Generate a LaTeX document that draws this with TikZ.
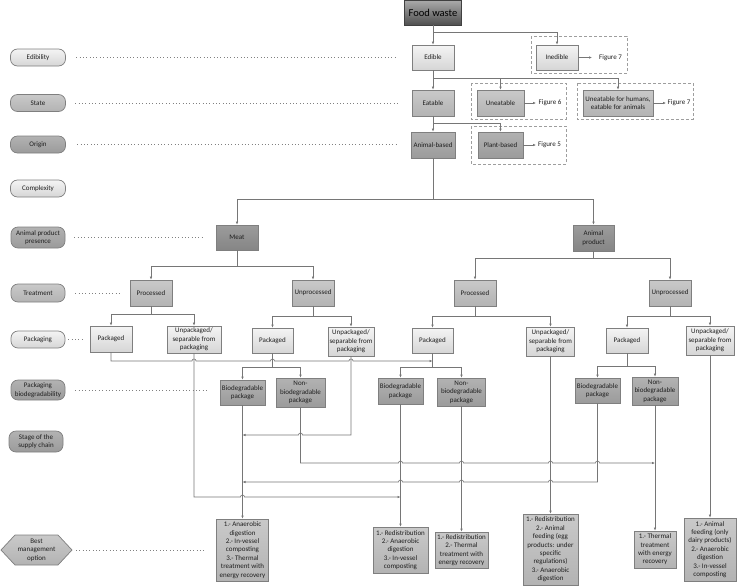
\documentclass[tikz,border=0pt]{standalone}
\usepackage{fontspec}
\setmainfont{Carlito}
\usetikzlibrary{arrows.meta,calc}
\definecolor{bord}{HTML}{7F7F7F}
\definecolor{lineg}{HTML}{767676}
\definecolor{lightT}{HTML}{F4F4F4}
\definecolor{lightB}{HTML}{D6D6D6}
\definecolor{midT}{HTML}{C9C9C9}
\definecolor{midB}{HTML}{B3B3B3}
\definecolor{darkT}{HTML}{B2B2B2}
\definecolor{darkB}{HTML}{9B9B9B}
\definecolor{darkerT}{HTML}{9C9C9C}
\definecolor{darkerB}{HTML}{858585}
\definecolor{fwT}{HTML}{ABABAB}
\definecolor{fwB}{HTML}{505050}
\newcommand\hopR[2]{-- (#1-2,#2) .. controls (#1-2,#2-2.7) and (#1+2,#2-2.7) .. (#1+2,#2)}
\newcommand\hopL[2]{-- (#1+2,#2) .. controls (#1+2,#2-2.7) and (#1-2,#2-2.7) .. (#1-2,#2)}
\begin{document}
\begin{tikzpicture}[x=1pt,y=-1pt,
  every node/.style={font=\fontsize{7}{8.4}\selectfont, text=black!88, inner sep=0pt, align=center},
  box/.style 2 args={draw=bord, line width=0.7pt, minimum width=#1, minimum height=#2},
  light/.style={top color=lightT, bottom color=lightB},
  mid/.style={top color=midT, bottom color=midB},
  dark/.style={top color=darkT, bottom color=darkB},
  darker/.style={top color=darkerT, bottom color=darkerB},
  pill/.style 2 args={draw=bord, line width=0.7pt, rounded corners=7pt, minimum width=#1, minimum height=#2},
  fig/.style={anchor=west, inner xsep=#1, inner ysep=1pt},
  ln/.style={draw=lineg, line width=0.6pt},
  arr/.style={draw=lineg, line width=0.6pt, -{Latex[length=3pt,width=2.6pt]}},
  dsh/.style={draw=black!38, line width=0.7pt, dash pattern=on 3pt off 2pt},
  dots/.style={draw=black!50, line width=0.65pt, dash pattern=on 0.65pt off 2.7pt}
]
\useasboundingbox (0,0) rectangle (737,587);

% ---------- left labels ----------
\node[pill={55}{17}, light] (edib) at (38,57.5) {Edibility};
\node[pill={55}{17}, mid] (state) at (38,103) {State};
\node[pill={55}{17}, dark] (origin) at (38,144.5) {Origin};
\node[pill={55}{17}, light] (cplx) at (38,188.5) {Complexity};
\node[pill={54}{21}, dark] (app) at (38,237.5) {Animal product\\ presence};
\node[pill={54}{18}, mid] (treat) at (38,293) {Treatment};
\node[pill={54}{17}, light] (pack) at (38,339.5) {Packaging};
\node[pill={54}{20}, dark] (pbio) at (38,390) {Packaging\\ biodegradability};
\node[pill={54}{21}, dark] (stage) at (36,441.5) {Stage of the\\ supply chain};
\draw[draw=bord, line width=0.7pt, top color=midT, bottom color=midB]
  (1,550) -- (15,535) -- (58,535) -- (72,550) -- (58,565) -- (15,565) -- cycle;
\node (best) at (36.5,550) {Best\\ management\\ option};
\coordinate (bestR) at (72,550);

% ---------- dotted guides ----------
\draw[dots] (edib.east) ++(10.5,0) -- (397,57.5);
\draw[dots] (state.east) ++(9.5,0) -- (397,103);
\draw[dots] (origin.east) ++(11.5,0) -- (397,144.5);
\draw[dots] (app.east) ++(9,0) -- (204,237.5);
\draw[dots] (treat.east) ++(10,0) -- (120,293);
\draw[dots] (pack.east) ++(3,0) -- (84,339.5);
\draw[dots] (pbio.east) ++(10,0) -- (208,390);
\draw[dots] (bestR) ++(4,0) -- (205,550);

% ---------- dashed groups ----------
\draw[dsh] (531,36) rectangle (627,73);
\draw[dsh] (471,83) rectangle (566,119);
\draw[dsh] (577,83) rectangle (693,119);
\draw[dsh] (471,126) rectangle (566,164);

% ---------- top part ----------
\node[box={57}{25}, top color=fwT, bottom color=fwB, draw=black!75, font=\fontsize{10.5}{12}\selectfont, text=black] (fw) at (433,12.5) {Food waste};
\node[box={42}{25}, light] (edible) at (433,57.5) {Edible};
\node[box={42}{25}, light] (inedible) at (557,57.5) {Inedible};
\node[fig=7pt] (f7a) at (592,57.5) {Figure 7};
\node[box={42}{26}, mid] (eatable) at (433,103) {Eatable};
\node[box={47}{26}, mid] (uneat) at (500.5,103) {Uneatable};
\node[fig=2.5pt] (f6) at (536,103) {Figure 6};
\node[box={70}{26}, mid] (uneathum) at (618,103) {Uneatable for humans,\\ eatable for animals};
\node[fig=1.5pt] (f7b) at (666,103) {Figure 7};
\node[box={44}{26}, dark] (ab) at (433,145) {Animal-based};
\node[box={45}{26}, dark] (pb) at (500.5,145) {Plant-based};
\node[fig=2pt] (f5) at (536,145) {Figure 5};

% ---------- product level ----------
\node[box={42}{25}, darker] (meat) at (237,237.5) {Meat};
\node[box={41}{26}, darker] (ap) at (593.5,238) {Animal\\ product};

% ---------- treatment ----------
\node[box={42}{26}, mid] (procm) at (151,293) {Processed};
\node[box={42}{26}, mid] (unprocm) at (313,293) {Unprocessed};
\node[box={42}{26}, mid] (proca) at (475,293) {Processed};
\node[box={42}{26}, mid] (unproca) at (670,293) {Unprocessed};

% ---------- packaging ----------
\node[box={42}{26}, light] (pkgm1) at (111,339) {Packaged};
\node[box={54}{27}, light] (unpm1) at (194,339.5) {Unpackaged/\\ separable from\\ packaging};
\node[box={41}{25}, light] (pkgm2) at (272.5,340.5) {Packaged};
\node[box={46}{29}, light] (unpm2) at (351,341.5) {Unpackaged/\\ separable from\\ packaging};
\node[box={41}{25}, light] (pkga1) at (432.5,340.5) {Packaged};
\node[box={48}{29}, light] (unpa1) at (550.5,341.5) {Unpackaged/\\ separable from\\ packaging};
\node[box={42}{25}, light] (pkga2) at (627,340.5) {Packaged};
\node[box={48}{29}, light] (unpa2) at (710,340.5) {Unpackaged/\\ separable from\\ packaging};

% ---------- biodegradability ----------
\node[box={45}{25}, dark] (biom) at (242.5,392.5) {Biodegradable\\ package};
\node[box={49}{29}, dark] (nbiom) at (300.5,392.5) {Non-\\ biodegradable\\ package};
\node[box={45}{26}, dark] (bioa1) at (400.5,391) {Biodegradable\\ package};
\node[box={48}{28}, dark] (nbioa1) at (461.5,392) {Non-\\ biodegradable\\ package};
\node[box={45}{25}, dark] (bioa2) at (597.5,390.5) {Biodegradable\\ package};
\node[box={46}{28}, dark] (nbioa2) at (655,391) {Non-\\ biodegradable\\ package};

% ---------- best management options ----------
\node[box={52}{62}, mid] (bm1) at (242.5,550) {1.- Anaerobic\\ digestion\\ 2.- In-vessel\\ composting\\ 3.- Thermal\\ treatment with\\ energy recovery};
\node[box={55}{46}, mid] (bm2) at (400.5,550) {1.- Redistribution\\ 2.- Anaerobic\\ digestion\\ 3.- In-vessel\\ composting};
\node[box={53}{36}, mid] (bm3) at (461.5,550) {1.- Redistribution\\ 2.- Thermal\\ treatment with\\ energy recovery};
\node[box={55}{71}, mid] (bm4) at (550.5,549.5) {1.- Redistribution\\ 2.- Animal\\ feeding (egg\\ products: under\\ specific\\ regulations)\\ 3.- Anaerobic\\ digestion};
\node[box={42}{37}, mid] (bm5) at (655,549.5) {1.- Thermal\\ treatment\\ with energy\\ recovery};
\node[box={52}{63}, mid] (bm6) at (710,549.5) {1.- Animal\\ feeding (only\\ dairy products)\\ 2.- Anaerobic\\ digestion\\ 3.- In-vessel\\ composting};

% ---------- connectors: top ----------
\coordinate (c1) at (433,32);
\draw[arr] (fw.south) -- (edible.north);
\draw[arr] (c1) -| (inedible.north);
\draw[arr] (inedible.east) -- (f7a.west);
\coordinate (c2) at (433,78);
\draw[arr] (edible.south) -- (eatable.north);
\draw[arr] (c2) -| (uneat.north);
\draw[arr] (c2) -| (uneathum.north);
\draw[arr] (uneat.east) -- (f6.west);
\draw[arr] (uneathum.east) -- (f7b.west);
\coordinate (c3) at (433,123);
\draw[arr] (eatable.south) -- (ab.north);
\draw[arr] (c3) -| (pb.north);
\draw[arr] (pb.east) -- (f5.west);
\coordinate (c4) at (433,199);
\draw[ln] (ab.south) -- (c4);
\draw[arr] (c4) -| (meat.north);
\draw[arr] (c4) -| (ap.north);

% ---------- connectors: treatment / packaging ----------
\coordinate (c5) at (237,266);
\draw[ln] (meat.south) -- (c5);
\draw[arr] (c5) -| (procm.north);
\draw[arr] (c5) -| (unprocm.north);
\coordinate (c6) at (593.5,258);
\draw[ln] (ap.south) -- (c6);
\draw[arr] (c6) -| (proca.north);
\draw[arr] (c6) -| (unproca.north);
\coordinate (c7) at (151,314);
\draw[ln] (procm.south) -- (c7);
\draw[arr] (c7) -| (pkgm1.north);
\draw[arr] (c7) -| (unpm1.north);
\coordinate (c8) at (313,316);
\draw[ln] (unprocm.south) -- (c8);
\draw[arr] (c8) -| (pkgm2.north);
\draw[arr] (c8) -| (unpm2.north);
\coordinate (c9) at (475,316);
\draw[ln] (proca.south) -- (c9);
\draw[arr] (c9) -| (pkga1.north);
\draw[arr] (c9) -| (unpa1.north);
\coordinate (c10) at (670,316);
\draw[ln] (unproca.south) -- (c10);
\draw[arr] (c10) -| (pkga2.north);
\draw[arr] (c10) -| (unpa2.north);

% ---------- connectors: biodegradability ----------
\coordinate (c11) at (272.5,367);
\draw[ln] (pkgm2.south) -- (c11);
\draw[arr] (c11) -| (biom.north);
\draw[arr] (c11) -| (nbiom.north);
\coordinate (c12) at (432.5,367);
\draw[ln] (pkga1.south) -- (c12);
\draw[arr] (c12) -| (bioa1.north);
\draw[arr] (c12) -| (nbioa1.north);
\coordinate (c13) at (627,366);
\draw[ln] (pkga2.south) -- (c13);
\draw[arr] (c13) -| (bioa2.north);
\draw[arr] (c13) -| (nbioa2.north);

% ---------- cross links with hops ----------
\coordinate (j1) at (432.5,361);
\draw[arr] (pkgm1.south) -- (111,361) \hopR{194}{361} \hopR{272.5}{361} \hopR{351}{361} -- (j1);
\coordinate (j2) at (400.5,497);
\draw[arr] (unpm1.south) -- (194,497) \hopR{242.5}{497} -- (j2);
\coordinate (j3) at (242.5,435);
\draw[arr] (unpm2.south) -- (351,435) \hopL{300.5}{435} -- (j3);
\coordinate (j4) at (655,463);
\draw[arr] (nbiom.south) -- (300.5,463) \hopR{400.5}{463} \hopR{461.5}{463} \hopR{550.5}{463} \hopR{597.5}{463} -- (j4);
\coordinate (j5) at (242.5,482);
\draw[arr] (bioa2.south) -- (597.5,482) \hopL{550.5}{482} \hopL{461.5}{482} \hopL{400.5}{482} -- (j5);

% ---------- to best management ----------
\draw[arr] (biom.south) -- (bm1.north);
\draw[arr] (bioa1.south) -- (bm2.north);
\draw[arr] (nbioa1.south) -- (bm3.north);
\draw[arr] (unpa1.south) -- (bm4.north);
\draw[arr] (nbioa2.south) -- (bm5.north);
\draw[arr] (unpa2.south) -- (bm6.north);
\end{tikzpicture}
\end{document}
